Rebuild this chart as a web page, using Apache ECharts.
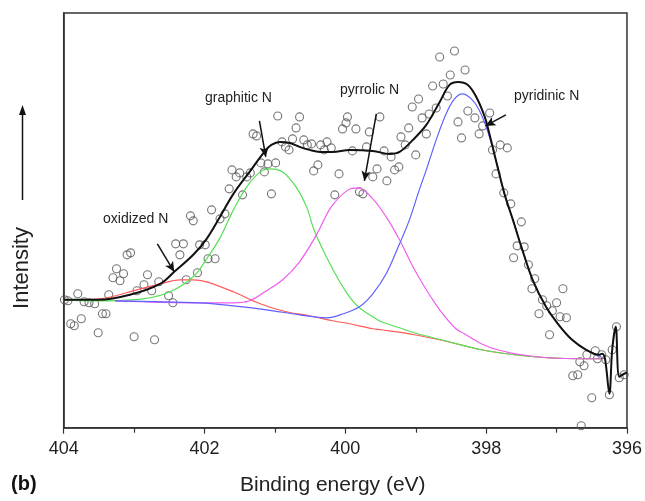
<!DOCTYPE html>
<html>
<head>
<meta charset="utf-8">
<script src="https://cdn.jsdelivr.net/npm/echarts@6/dist/echarts.min.js"></script>
<style>
  html, body { margin: 0; padding: 0; background: #fff; }
  #chart { width: 645px; height: 501px; }
</style>
</head>
<body>
<div id="chart"></div>
<script>
// x ticks (binding energy, eV)
const xTicks = [404, 402, 400, 398, 396];

// measured points [eV, intensity a.u.]
const measured = [
  [403.99, 128], [403.94, 127], [403.80, 134], [403.71, 126], [403.64, 125], [403.56, 124],
  [403.90, 104], [403.85, 102], [403.75, 109], [403.51, 95], [403.45, 114], [403.40, 114],
  [403.36, 133], [403.30, 150], [403.25, 159], [403.20, 147], [403.15, 154], [403.10, 173],
  [403.05, 175], [403.00, 91], [402.96, 137], [402.86, 143], [402.81, 153], [402.75, 137],
  [402.71, 88], [402.65, 146], [402.51, 132], [402.45, 125], [402.41, 184], [402.30, 184],
  [402.35, 173], [402.26, 148], [402.20, 212], [402.16, 207], [402.10, 155], [402.07, 183],
  [401.99, 183], [401.95, 169], [401.85, 169], [401.90, 218], [401.78, 209], [401.71, 214],
  [401.65, 239], [401.61, 258], [401.55, 251], [401.50, 255], [401.46, 233], [401.40, 251],
  [401.35, 255], [401.31, 294], [401.26, 292], [401.20, 265], [401.15, 256], [401.10, 264],
  [400.99, 265], [401.05, 234], [400.96, 312], [400.90, 286], [400.85, 281], [400.80, 278],
  [400.75, 289], [400.70, 300], [400.65, 311], [400.59, 288], [400.54, 283], [400.48, 284],
  [400.45, 257], [400.39, 263], [400.35, 283], [400.30, 278], [400.26, 286], [400.20, 280],
  [400.15, 233], [400.09, 254], [400.04, 299], [399.99, 305], [399.97, 311], [399.85, 299],
  [399.66, 296], [399.51, 311], [399.90, 277], [399.70, 281], [399.45, 277], [399.35, 271],
  [399.21, 291], [399.10, 300], [399.05, 321], [398.96, 329], [398.91, 310], [398.81, 314],
  [398.71, 320], [398.85, 294], [399.00, 273], [399.15, 283], [399.24, 261], [399.30, 258],
  [399.41, 247], [399.55, 259], [399.61, 251], [399.80, 236], [399.75, 234], [398.76, 342],
  [398.61, 344], [398.55, 332], [398.51, 353], [398.66, 371], [398.45, 377], [398.30, 358],
  [398.26, 317], [398.40, 306], [398.35, 290], [398.16, 310], [398.10, 294], [398.05, 302],
  [397.95, 315], [397.91, 278], [397.80, 283], [397.70, 280], [397.86, 254], [397.75, 235],
  [397.65, 224], [397.50, 206], [397.56, 182], [397.46, 181], [397.61, 170], [397.40, 163],
  [397.31, 149], [397.35, 139], [397.20, 128], [397.00, 125], [397.14, 122], [397.06, 117],
  [397.25, 114], [396.95, 111], [396.86, 110], [396.91, 139], [397.10, 93], [396.57, 73],
  [396.45, 77], [396.42, 69], [396.36, 73], [396.30, 68], [396.67, 66], [396.61, 62],
  [396.77, 52], [396.70, 53], [396.50, 30], [396.25, 33], [396.15, 101], [396.21, 78],
  [396.11, 50], [396.04, 53], [396.65, 2]
];

// fitted envelope
const envelope = [
  [404.00, 128], [403.50, 128], [403.06, 133], [402.63, 144], [402.43, 156], [402.16, 173],
  [401.97, 189], [401.78, 211], [401.59, 234], [401.36, 256], [401.15, 276], [401.05, 283],
  [400.93, 286], [400.79, 285], [400.65, 281], [400.51, 278], [400.36, 276], [400.18, 276],
  [399.94, 278], [399.61, 277], [399.37, 274], [399.23, 276], [399.04, 288], [398.85, 303],
  [398.66, 326], [398.52, 343], [398.40, 346], [398.26, 343], [398.14, 331], [398.02, 311],
  [397.95, 293], [397.88, 273], [397.74, 234], [397.62, 208], [397.50, 181], [397.34, 148],
  [397.15, 121], [396.97, 103], [396.78, 88], [396.58, 78], [396.40, 73], [396.35, 74],
  [396.31, 68], [396.25, 34], [396.21, 78], [396.16, 101], [396.11, 51], [396.04, 54],
  [396.00, 55]
];

// oxidized N component
const oxidized = [
  [404.00, 128], [403.49, 129], [402.96, 138], [402.63, 144], [402.35, 148], [402.16, 148],
  [401.97, 146], [401.59, 136], [401.21, 124], [400.84, 116], [400.51, 112], [400.18, 107],
  [399.94, 104], [399.61, 99], [399.49, 98], [399.02, 93], [398.54, 86], [398.07, 78],
  [397.60, 73], [397.13, 70], [396.60, 69], [396.37, 69]
];

// graphitic N component
const graphitic = [
  [404.00, 128], [403.58, 127], [402.87, 129], [402.49, 136], [402.16, 151], [401.97, 169],
  [401.78, 190], [401.59, 218], [401.40, 241], [401.21, 256], [401.07, 259], [400.89, 256],
  [400.70, 241], [400.55, 221], [400.44, 197], [400.27, 171], [400.08, 146], [399.94, 131],
  [399.80, 120], [399.61, 111], [399.49, 106], [399.23, 100], [399.02, 95], [398.64, 88],
  [398.07, 78], [397.60, 73], [397.13, 70], [396.60, 69], [396.37, 69]
];

// pyrrolic N component
const pyrrolic = [
  [403.27, 127], [402.06, 125], [401.59, 125], [401.36, 127], [401.12, 137], [400.89, 148],
  [400.65, 166], [400.41, 193], [400.20, 221], [399.96, 238], [399.82, 240], [399.61, 229],
  [399.42, 211], [399.23, 188], [399.04, 161], [398.85, 138], [398.66, 118], [398.43, 99],
  [398.31, 94], [398.07, 84], [397.84, 78], [397.50, 73], [397.13, 70], [396.60, 69],
  [396.37, 69]
];

// pyridinic N component
const pyridinic = [
  [403.27, 127], [402.06, 125], [401.59, 122], [401.12, 118], [400.65, 113], [400.27, 110],
  [400.03, 114], [399.80, 121], [399.61, 134], [399.42, 154], [399.23, 184], [399.09, 208],
  [398.95, 238], [398.85, 258], [398.71, 288], [398.57, 314], [398.45, 329], [398.34, 334],
  [398.21, 329], [398.10, 318], [398.00, 301], [397.88, 273], [397.74, 234], [397.62, 208],
  [397.50, 181], [397.34, 148], [397.15, 121], [396.97, 103], [396.78, 88], [396.58, 78],
  [396.37, 71]
];

// annotation arrows [from, to] in data units
const arrows = [
  [[402.67, 184], [402.43, 156]],
  [[401.22, 307], [401.13, 271]],
  [[399.56, 314], [399.73, 247]],
  [[397.72, 313], [398.01, 302]]
];

const FONT = '"Liberation Sans", Arial, sans-serif';

const chart = echarts.init(document.getElementById('chart'));

function curve(name, data, color, width) {
  return {
    name: name,
    type: 'line',
    data: data,
    smooth: 0.35,
    symbol: 'none',
    silent: true,
    lineStyle: { color: color, width: width }
  };
}

chart.setOption({
  animation: false,
  grid: {
    left: 63.7, right: 17.3, top: 13, bottom: 73.3,
    show: true, borderColor: '#333', borderWidth: 1.5, backgroundColor: 'transparent'
  },
  xAxis: {
    type: 'value',
    inverse: true,
    min: 396,
    max: 404,
    interval: 2,
    axisLine: { lineStyle: { color: '#333', width: 1.5 } },
    axisTick: { show: true, length: 6, lineStyle: { color: '#333', width: 1.2 } },
    minorTick: { show: true, splitNumber: 2, length: 5, lineStyle: { color: '#333', width: 1.2 } },
    splitLine: { show: false },
    axisLabel: {
      margin: 12, color: '#222', fontSize: 18, fontFamily: FONT,
      formatter: v => xTicks.includes(v) ? String(v) : ''
    }
  },
  yAxis: {
    type: 'value',
    min: 0,
    max: 415,
    axisLine: { show: true, lineStyle: { color: '#333', width: 1.5 } },
    axisTick: { show: false },
    axisLabel: { show: false },
    splitLine: { show: false }
  },
  graphic: [
    { type: 'text', left: 103, top: 212, style: { text: 'oxidized N', fontSize: 14, fontFamily: FONT, fill: '#222' } },
    { type: 'text', left: 205, top: 91, style: { text: 'graphitic N', fontSize: 14, fontFamily: FONT, fill: '#222' } },
    { type: 'text', left: 340, top: 83, style: { text: 'pyrrolic N', fontSize: 14, fontFamily: FONT, fill: '#222' } },
    { type: 'text', left: 514, top: 89, style: { text: 'pyridinic N', fontSize: 14, fontFamily: FONT, fill: '#222' } },
    { type: 'text', x: 22, y: 268, rotation: Math.PI / 2,
      style: { text: 'Intensity', fontSize: 22, fontFamily: FONT, fill: '#222', align: 'center', verticalAlign: 'middle' } },
    { type: 'line', shape: { x1: 22.5, y1: 200, x2: 22.5, y2: 112 }, style: { stroke: '#111', lineWidth: 1.5 } },
    { type: 'polygon', shape: { points: [[22.5, 105], [19, 115], [26, 115]] }, style: { fill: '#111' } },
    { type: 'text', left: 240, top: 475, style: { text: 'Binding energy (eV)', fontSize: 21, fontFamily: FONT, fill: '#222' } },
    { type: 'text', left: 11, top: 474, style: { text: '(b)', fontSize: 20, fontWeight: 'bold', fontFamily: FONT, fill: '#111' } }
  ],
  series: [
    curve('oxidized N', oxidized, '#ff5a5a', 1.2),
    curve('graphitic N', graphitic, '#55e055', 1.2),
    curve('pyrrolic N', pyrrolic, '#f05cf0', 1.2),
    curve('pyridinic N', pyridinic, '#6060ff', 1.2),
    curve('envelope', envelope, '#111', 2),
    {
      name: 'measured',
      type: 'scatter',
      data: measured,
      symbol: 'circle',
      symbolSize: 8,
      silent: true,
      itemStyle: { color: 'rgba(0,0,0,0)', borderColor: '#555', borderWidth: 1.1 },
      markLine: {
        silent: true,
        symbol: ['none', 'arrow'],
        symbolSize: [7, 10],
        label: { show: false },
        lineStyle: { color: '#111', width: 1.5, type: 'solid' },
        data: arrows.map(a => [{ coord: a[0] }, { coord: a[1] }])
      }
    }
  ]
});
</script>
</body>
</html>
